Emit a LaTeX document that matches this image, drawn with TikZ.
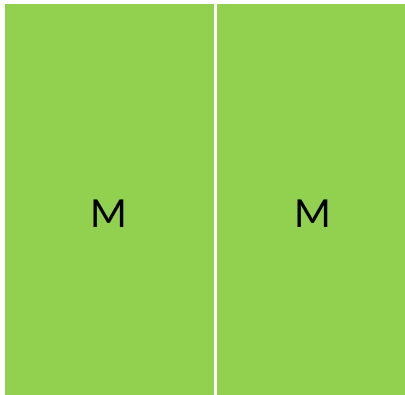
\documentclass[tikz,border=0pt]{standalone}
\usepackage{fontspec}
\setmainfont{Carlito}
\definecolor{boxgreen}{HTML}{92D050}
\tikzset{panel/.style={fill=boxgreen,draw=none},
  lbl/.style={font=\fontsize{43}{43}\selectfont,text=black,inner sep=0pt}}
\begin{document}
\begin{tikzpicture}[x=1pt,y=1pt]
\useasboundingbox (0,0) rectangle (405,395);
\fill[white] (0,0) rectangle (405,395);
\node[panel,minimum width=209pt,minimum height=391pt,inner sep=0pt,anchor=south west] (left) at (5,0) {};
\node[panel,minimum width=188pt,minimum height=391pt,inner sep=0pt,anchor=south west] (right) at (217,0) {};
\node[lbl] (m1) at (109,181) {M};
\node[lbl] (m2) at (313,181) {M};
\end{tikzpicture}
\end{document}
